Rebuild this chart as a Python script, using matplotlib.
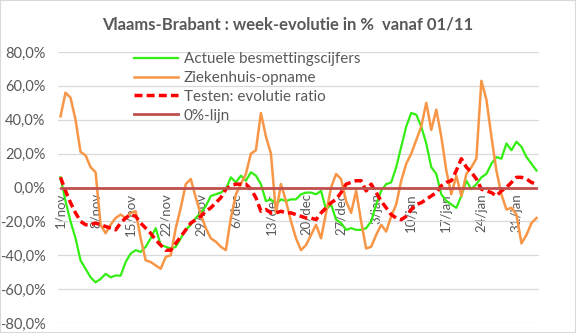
import matplotlib
matplotlib.use("Agg")
import matplotlib.pyplot as plt
from matplotlib.patches import Rectangle
from matplotlib.ticker import FuncFormatter
import numpy as np

plt.rcParams['font.family'] = ['Lato', 'DejaVu Sans']

# dagen vanaf 1/nov (96 dagen)
days = list(range(96))
tick_labels = ['1/nov', '8/nov', '15/nov', '22/nov', '29/nov', '6/dec', '13/dec',
               '20/dec', '27/dec', '3/jan', '10/jan', '17/jan', '24/jan', '31/jan']

# week-evolutie in %
besmettingen = [6, -8, -20, -30, -43, -48, -53, -56, -54, -51,
                -53, -52, -52, -44, -39, -37, -38, -35, -30, -24,
                -34, -35, -36, -35, -30, -25, -22, -18, -15, -11,
                -5, -4, -3, -1, 6, 3, 7, 4, 9, 7,
                2, -8, -7, -10, -7, -8, -7, -7, -4, -3,
                -3, -4, -2, -13, -10, -19, -21, -25, -24, -25,
                -25, -24, -20, -10, -2, 2, 3, 12, 24, 36,
                44, 43, 36, 26, 12, 8, -4, -8, -10, -12,
                -5, 4, -1, 2, 6, 8, 14, 18, 17, 26,
                22, 27, 24, 18, 14, 10]

ziekenhuis = [42, 56, 53, 40, 21, 19, 12, 9, -22, -27,
              -22, -18, -16, -18, -15, -14, -30, -43, -44, -46,
              -48, -41, -40, -24, -12, 2, 5, -6, -16, -24,
              -30, -32, -35, -37, -18, -4, 2, 8, 20, 22,
              44, 30, 20, -15, 2, -8, -20, -30, -37, -34,
              -28, -22, -30, -15, 0, 8, 5, -8, -15, -2,
              -20, -36, -35, -28, -22, -26, -17, -10, 4, 14,
              20, 28, 36, 50, 34, 46, 30, 10, -4, 7,
              -5, 8, 12, 17, 63, 52, 30, 10, -4, -13,
              -12, -16, -33, -28, -21, -18]

testen = [6, -2, -9, -15, -20, -22, -22, -21, -22, -23,
          -24, -25, -21, -18, -16, -17, -21, -24, -27, -31,
          -34, -37, -37, -33, -29, -25, -21, -19, -17, -14,
          -12, -9, -6, -1, 1, 2, 2, 2, -1, -6,
          -14, -13, -15, -15, -14, -15, -15, -16, -17, -18,
          -18, -19, -15, -12, -9, -7, -3, 2, 3, 4,
          4, -2, 2, -3, -8, -12, -16, -18, -19, -17,
          -13, -10, -9, -7, -5, -3, 1, 3, 4, 10,
          17, 12, 9, 5, -1, -2, -3, -5, -2, 0,
          3, 6, 6, 5, 3, 2]

nul_lijn = [0] * len(days)

gray = '#595959'

fig = plt.figure(figsize=(5.76, 3.33), dpi=100)
fig.subplots_adjust(left=58/576, right=539/576, top=1-52/333, bottom=1-323/333)
ax = fig.add_subplot(111)

ax.plot(days, besmettingen, color='#33EE11', lw=1.6, label='Actuele besmettingscijfers')
ax.plot(days, ziekenhuis, color='#F79646', lw=1.8, label='Ziekenhuis-opname')
ax.plot(days, testen, color='#FF0000', lw=2.5, dashes=(2.3, 1.2), label='Testen: evolutie ratio')
ax.plot(days, nul_lijn, color='#C0504D', lw=2.0, label='0%-lijn')

# x-as op de 0-lijn, labels eronder
ax.spines['bottom'].set_position(('data', 0))
for s in ax.spines.values():
    s.set_visible(False)

ax.set_xlim(-0.5, len(days) - 0.5)
ax.set_ylim(-80, 80)
ax.set_yticks(np.arange(-80, 81, 20))
ax.yaxis.set_major_formatter(FuncFormatter(lambda v, p: f'{v:.1f}%'.replace('.', ',')))
ax.grid(axis='y', color='#d9d9d9', lw=0.9)
ax.set_axisbelow(True)

ax.set_xticks(days[::7])
ax.set_xticklabels(tick_labels, rotation=90, va='top', ha='center')
ax.tick_params(axis='x', length=0, pad=4, labelsize=9.5, labelcolor=gray)
ax.tick_params(axis='y', length=0, pad=9, labelsize=10.5, labelcolor=gray)

ax.legend(loc='upper left', bbox_to_anchor=(0.158, 1.0), frameon=False,
          fontsize=11, handlelength=2.9, handletextpad=0.35, labelspacing=0.32,
          borderpad=0, borderaxespad=0, labelcolor=gray)

fig.text(0.5, 1-25/333, 'Vlaams-Brabant : week-evolutie in %  vanaf 01/11',
         ha='center', va='center', fontsize=12, fontweight='bold', color=gray)

fig.patches.append(Rectangle((0, 0), 1, 1, transform=fig.transFigure, fill=False,
                             edgecolor='#d9d9d9', lw=1.5))

fig.savefig('out.png', dpi=100)
